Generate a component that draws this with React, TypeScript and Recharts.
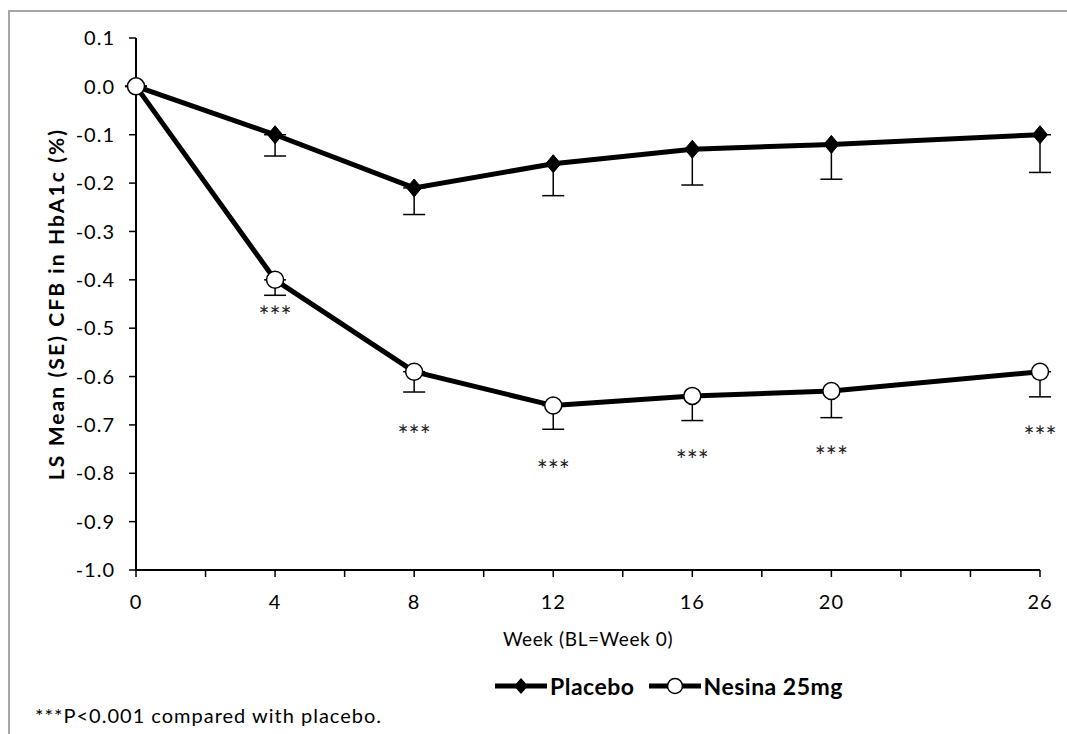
import React from "react";
import {
  ComposedChart,
  Line,
  Scatter,
  XAxis,
  YAxis,
  ErrorBar,
} from "recharts";

// ---- data ----
const weeks = [0, 4, 8, 12, 16, 20, 26];
const placeboMean = [0, -0.1, -0.21, -0.16, -0.13, -0.12, -0.1];
const placeboSE = [0, 0.044, 0.055, 0.066, 0.074, 0.072, 0.078];
const nesinaMean = [0, -0.4, -0.59, -0.66, -0.64, -0.63, -0.59];
const nesinaSE = [0, 0.032, 0.042, 0.049, 0.051, 0.055, 0.052];

const starWeeks = [4, 8, 12, 16, 20, 26];
const starLevels = [-0.466, -0.712, -0.784, -0.764, -0.755, -0.714];

const xTicks = [0, 2, 4, 6, 8, 10, 12, 14, 16, 18, 20, 22, 24, 26];
const xLabelled = [0, 4, 8, 12, 16, 20, 26];
const yTicks = [0.1, 0, -0.1, -0.2, -0.3, -0.4, -0.5, -0.6, -0.7, -0.8, -0.9, -1.0];

const data = weeks.map((w, i) => ({
  week: w,
  placebo: placeboMean[i],
  placeboErr: [placeboSE[i], 0],
  nesina: nesinaMean[i],
  nesinaErr: [nesinaSE[i], 0],
}));

const starData = starWeeks.map((w, i) => ({ week: w, level: starLevels[i] }));

const FONT = "Lato, 'Noto Sans', sans-serif";

const fmtY = (v: number) => (Math.abs(v) < 1e-9 ? "0.0" : v.toFixed(1));

const XTick = (props: any) => {
  const { x, y, payload } = props;
  const v = payload?.value;
  if (!xLabelled.includes(v)) return <g />;
  return (
    <text
      x={x}
      y={y}
      dy="0.71em"
      textAnchor="middle"
      fontFamily={FONT}
      fontSize={20}
      letterSpacing={1}
      fill="#000"
    >
      {String(v)}
    </text>
  );
};

const YTick = (props: any) => {
  const { x, y, payload } = props;
  return (
    <text
      x={x}
      y={y}
      dy="0.36em"
      textAnchor="end"
      fontFamily={FONT}
      fontSize={20}
      letterSpacing={1}
      fill="#000"
    >
      {fmtY(payload?.value)}
    </text>
  );
};

const DiamondDot = (props: any) => {
  const { cx, cy, index } = props;
  if (cx == null || cy == null) return <g key={`d-${index}`} />;
  const rx = 7.5;
  const ry = 9;
  return (
    <polygon
      key={`d-${index}`}
      points={`${cx},${cy - ry} ${cx + rx},${cy} ${cx},${cy + ry} ${cx - rx},${cy}`}
      fill="#000"
      stroke="#000"
      strokeWidth={1}
    />
  );
};

const CircleDot = (props: any) => {
  const { cx, cy, index } = props;
  if (cx == null || cy == null) return <g key={`c-${index}`} />;
  return (
    <circle
      key={`c-${index}`}
      cx={cx}
      cy={cy}
      r={8.5}
      fill="#fff"
      stroke="#000"
      strokeWidth={1.5}
    />
  );
};

const StarShape = (props: any) => {
  const { cx, cy } = props;
  return (
    <text
      x={cx}
      y={cy}
      dy={14}
      textAnchor="middle"
      fontFamily={FONT}
      fontSize={26}
      fill="#222"
    >
      ***
    </text>
  );
};

const LegendIcon = ({ kind }: { kind: "diamond" | "circle" }) => (
  <svg width={52} height={20} style={{ display: "block" }}>
    <line x1={0} y1={10} x2={52} y2={10} stroke="#000" strokeWidth={5} />
    {kind === "diamond" ? (
      <polygon points="26,2 33,10 26,18 19,10" fill="#000" />
    ) : (
      <circle cx={26} cy={10} r={7.5} fill="#fff" stroke="#000" strokeWidth={1.5} />
    )}
  </svg>
);

export default function App() {
  return (
    <div
      style={{
        position: "absolute",
        left: 0,
        top: 0,
        width: 1067,
        height: 734,
        background: "#fff",
        overflow: "hidden",
        fontFamily: FONT,
      }}
    >
      <div
        style={{
          position: "absolute",
          left: 8,
          top: 10,
          width: 1100,
          height: 800,
          borderTop: "2px solid #a6a6a6",
          borderLeft: "2px solid #a6a6a6",
        }}
      />
      <div style={{ position: "absolute", left: 0, top: 0 }}>
        <ComposedChart
          width={1067}
          height={734}
          data={data}
          margin={{ top: 38, right: 27, bottom: 84, left: 0 }}
        >
          <XAxis
            dataKey="week"
            type="number"
            domain={[0, 26]}
            ticks={xTicks}
            interval={0}
            height={80}
            tickSize={7}
            tickMargin={18}
            axisLine={{ stroke: "#000", strokeWidth: 2 }}
            tickLine={{ stroke: "#000", strokeWidth: 1.5 }}
            tick={XTick}
            label={{
              value: "Week (BL=Week 0)",
              position: "insideBottom",
              offset: 4,
              fill: "#000",
              fontSize: 19,
              fontFamily: FONT,
              letterSpacing: 0.6,
            }}
          />
          <YAxis
            type="number"
            domain={[-1, 0.1]}
            ticks={yTicks}
            interval={0}
            width={136}
            tickSize={7}
            tickMargin={14}
            axisLine={{ stroke: "#000", strokeWidth: 2 }}
            tickLine={{ stroke: "#000", strokeWidth: 1.5 }}
            tick={YTick}
            label={{
              value: "LS Mean (SE) CFB in HbA1c (%)",
              angle: -90,
              position: "insideLeft",
              offset: 57,
              fill: "#000",
              fontSize: 21,
              fontWeight: "bold",
              fontFamily: FONT,
              letterSpacing: 2.1,
              style: { textAnchor: "middle" },
            }}
          />
          <Line
            type="linear"
            dataKey="placebo"
            stroke="#000"
            strokeWidth={5}
            dot={DiamondDot}
            activeDot={false}
            isAnimationActive={false}
          >
            <ErrorBar
              dataKey="placeboErr"
              direction="y"
              width={11}
              stroke="#000"
              strokeWidth={1.5}
              isAnimationActive={false}
            />
          </Line>
          <Line
            type="linear"
            dataKey="nesina"
            stroke="#000"
            strokeWidth={5}
            dot={CircleDot}
            activeDot={false}
            isAnimationActive={false}
          >
            <ErrorBar
              dataKey="nesinaErr"
              direction="y"
              width={11}
              stroke="#000"
              strokeWidth={1.5}
              isAnimationActive={false}
            />
          </Line>
          <Scatter
            data={starData}
            dataKey="level"
            shape={StarShape}
            isAnimationActive={false}
          />
        </ComposedChart>
      </div>
      <div
        style={{
          position: "absolute",
          left: 495,
          top: 672,
          display: "flex",
          alignItems: "center",
          fontWeight: "bold",
          fontSize: 23,
          letterSpacing: 0.5,
          color: "#000",
          whiteSpace: "nowrap",
        }}
      >
        <LegendIcon kind="diamond" />
        <span style={{ marginLeft: 3, marginRight: 14 }}>Placebo</span>
        <LegendIcon kind="circle" />
        <span style={{ marginLeft: 3 }}>Nesina 25mg</span>
      </div>
      <div
        style={{
          position: "absolute",
          left: 35,
          top: 703,
          fontSize: 20,
          lineHeight: "24px",
          letterSpacing: 1,
          color: "#000",
          whiteSpace: "nowrap",
        }}
      >
        ***P&lt;0.001 compared with placebo.
      </div>
    </div>
  );
}
